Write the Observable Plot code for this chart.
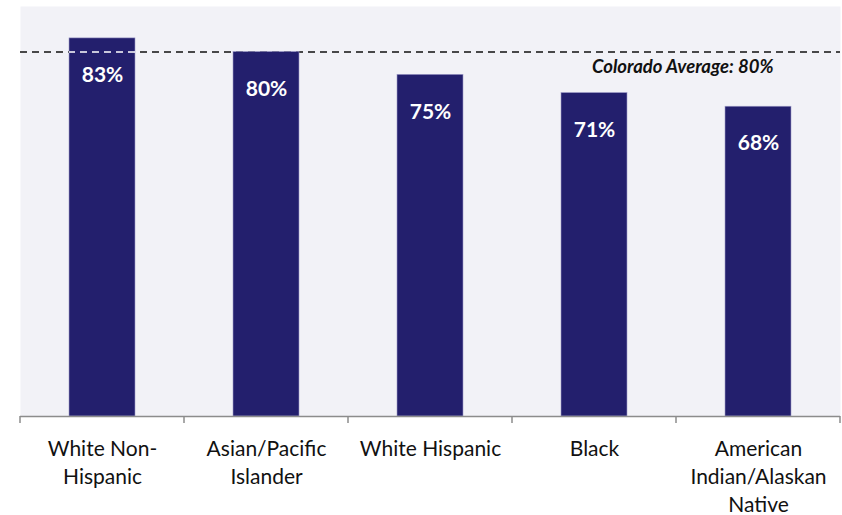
<!DOCTYPE html>
<html>
<head>
<meta charset="utf-8">
<script src="https://cdn.jsdelivr.net/npm/d3@7"></script>
<script src="https://cdn.jsdelivr.net/npm/@observablehq/plot@0.6"></script>
<style>
  html, body { margin: 0; padding: 0; background: #ffffff; }
  #chart svg { display: block; font-family: Lato, "Open Sans", sans-serif; }
</style>
</head>
<body>
<div id="chart"></div>
<script>
const categories = ["White Non-Hispanic", "Asian/Pacific Islander", "White Hispanic", "Black", "American Indian/Alaskan Native"];
const tickLabels = ["White Non-\nHispanic", "Asian/Pacific\nIslander", "White Hispanic", "Black", "American\nIndian/Alaskan\nNative"];
const values = [0.83, 0.80, 0.75, 0.71, 0.68];
const averageValue = 0.80;
const averageLabel = "Colorado Average: 80%";

const data = categories.map((c, i) => ({category: c, value: values[i]}));
const labelOf = new Map(categories.map((c, i) => [c, tickLabels[i]]));

const navy = "#231f6d";
const dash = "7,5";

const plot = Plot.plot({
  width: 842,
  height: 515,
  marginTop: 6,
  marginBottom: 99,
  marginLeft: 20,
  marginRight: 2,
  style: {fontFamily: "Lato, 'Open Sans', sans-serif", background: "#ffffff"},
  x: {domain: categories, paddingInner: 0.6, paddingOuter: 0.3, label: null},
  y: {domain: [0, 0.9], axis: null},
  marks: [
    Plot.frame({fill: "#f2f2f7", stroke: null}),
    Plot.ruleY([averageValue], {stroke: "#111", strokeWidth: 1.6, strokeDasharray: dash}),
    Plot.barY(data, {x: "category", y: "value", fill: navy, stroke: "#9e9cc8", strokeWidth: 0.6}),
    Plot.tickY(data.filter(d => d.value > averageValue), {x: "category", y: () => averageValue, stroke: "#ffffff", strokeWidth: 1.6, strokeDasharray: dash, strokeDashoffset: 1}),
    Plot.text(data, {x: "category", y: "value", text: d => Math.round(d.value * 100) + "%", dy: 37, fill: "#ffffff", fontWeight: "bold", fontSize: 21}),
    Plot.text([averageLabel], {frameAnchor: "right", y: () => averageValue, text: d => d, textAnchor: "end", dx: -67, dy: 15, fontStyle: "italic", fontWeight: "bold", fontSize: 18.5, fill: "#111"}),
    Plot.ruleY([0], {stroke: "#8c8c8c", strokeWidth: 1.5}),
    Plot.axisX({tickSize: 0, tickPadding: 19, fontSize: 21, lineHeight: 1.35, tickFormat: d => labelOf.get(d), fill: "#111", label: null})
  ]
});

// boundary ticks between category bands, derived from the x scale
const xs = plot.scale("x");
const ys = plot.scale("y");
const step = xs.step;
const off = (step - xs.bandwidth) / 2;
const y0 = ys.apply(0);
const bounds = categories.map(c => xs.apply(c) - off);
bounds.push(xs.apply(categories[categories.length - 1]) + xs.bandwidth + off);
const svg = d3.select(plot);
svg.append("g").selectAll("line").data(bounds).join("line")
  .attr("x1", d => d).attr("x2", d => d)
  .attr("y1", y0).attr("y2", y0 + 7)
  .attr("stroke", "#8c8c8c").attr("stroke-width", 1.5);

document.getElementById("chart").appendChild(plot);
</script>
</body>
</html>
